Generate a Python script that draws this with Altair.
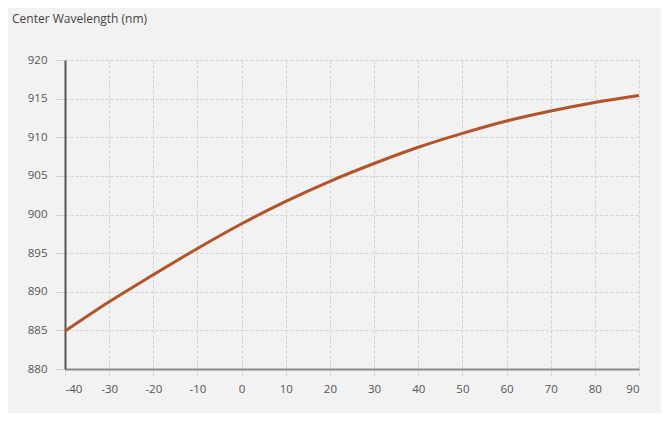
import altair as alt
import pandas as pd

temps = [-40, -30, -20, -10, 0, 10, 20, 30, 40, 50, 60, 70, 80, 90]
wavelengths = [884.9, 888.7, 892.2, 895.6, 898.8, 901.7, 904.3, 906.6, 908.7, 910.5, 912.1, 913.4, 914.5, 915.4]
x_ticks = [-40, -30, -20, -10, 0, 10, 20, 30, 40, 50, 60, 70, 80, 90]
y_ticks = [880, 885, 890, 895, 900, 905, 910, 915, 920]

df = pd.DataFrame({"temp": temps, "wl": wavelengths})

font = "Open Sans"

line = alt.Chart(df).mark_line(
    color="#b4532a", strokeWidth=3, interpolate="monotone"
).encode(
    x=alt.X("temp:Q", scale=alt.Scale(domain=[-40, 90], nice=False, zero=False),
            axis=alt.Axis(values=x_ticks, title=None, grid=True, gridDash=[3, 2],
                          gridColor="#d2d2d2", domainColor="#8a8a8a", domainWidth=2,
                          tickColor="#c8c8c8", tickSize=8, tickDash=[2, 2],
                          labelColor="#555555", labelFontSize=11.5, labelFont=font,
                          labelPadding=6, labelExpr="'' + datum.value")),
    y=alt.Y("wl:Q", scale=alt.Scale(domain=[880, 920], nice=False, zero=False),
            axis=alt.Axis(values=y_ticks, title=None, grid=True, gridDash=[3, 2],
                          gridColor="#d2d2d2", domainColor="#555555", domainWidth=2,
                          tickColor="#d2d2d2", tickSize=10,
                          labelColor="#555555", labelFontSize=11.5, labelFont=font,
                          labelPadding=8)),
)

chart = line.properties(
    width=574, height=309,
    title=alt.TitleParams("Center Wavelength (nm)", anchor="start", frame="group",
                          dx=-53, offset=28, fontSize=12, font=font,
                          fontWeight="normal", color="#444444"),
    autosize=alt.AutoSizeParams(type="none"),
    padding={"left": 57, "top": 52, "right": 22, "bottom": 44},
    background="#f2f2f2",
).configure_view(stroke=None)

chart.save("out.html", embed_options={"renderer": "svg", "actions": False})
